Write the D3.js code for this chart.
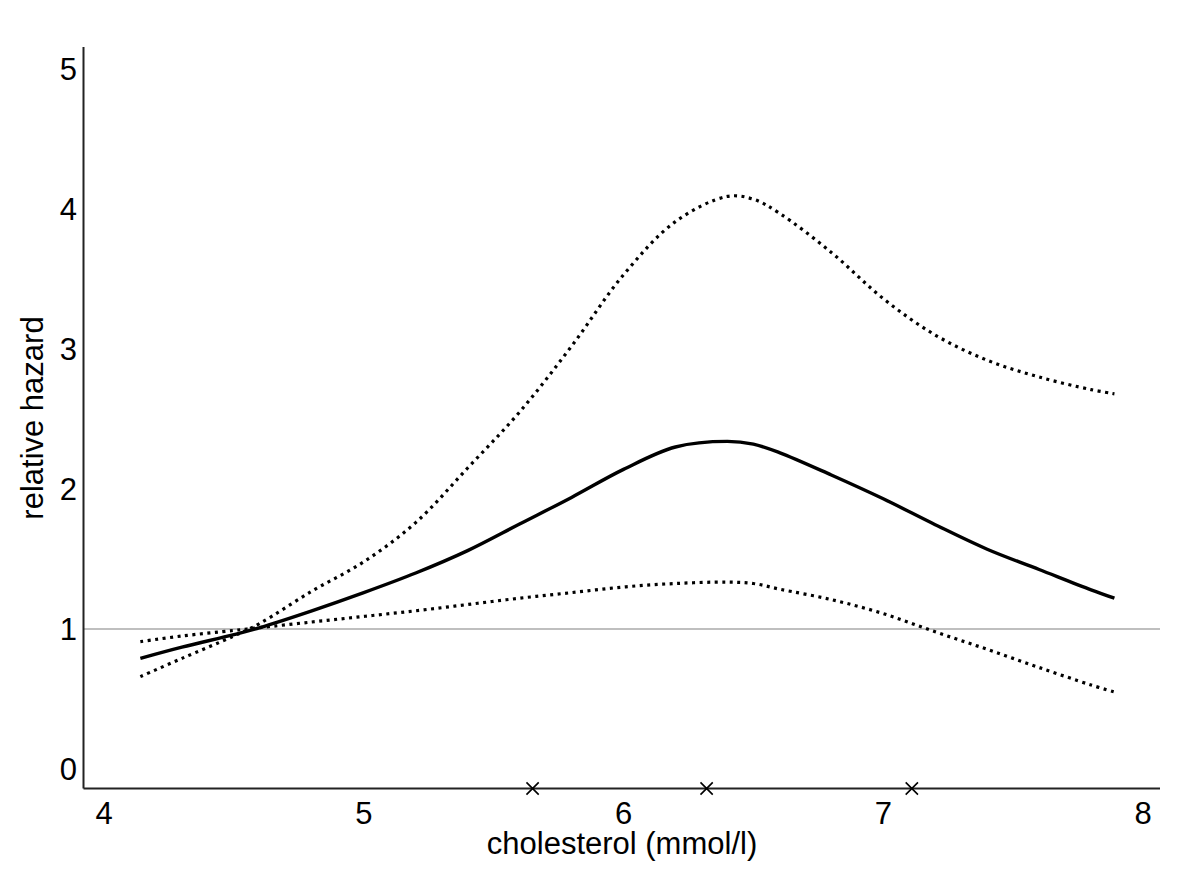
<!DOCTYPE html>
<html>
<head>
<meta charset="utf-8">
<script src="https://cdn.jsdelivr.net/npm/d3@7"></script>
<style>
  body { margin: 0; background: #fff; }
  text { font-family: "Liberation Sans", Arial, sans-serif; fill: #000; }
</style>
</head>
<body>
<svg id="chart" width="1200" height="884"></svg>
<script>
// cholesterol values (mmol/l) at which the curves were read
const xs = [4.14, 4.3, 4.5, 4.6, 4.8, 5.0, 5.2, 5.4, 5.6, 5.8, 6.0, 6.2, 6.4, 6.5, 6.6, 6.8, 7.0, 7.2, 7.4, 7.6, 7.8, 7.89]
// relative hazard estimate
const hazard = [0.79, 0.87, 0.96, 1.01, 1.13, 1.26, 1.40, 1.56, 1.75, 1.94, 2.14, 2.30, 2.34, 2.32, 2.26, 2.10, 1.93, 1.745, 1.57, 1.425, 1.28, 1.22]
// confidence band, the one that rises steeply
const bandHigh = [0.66, 0.79, 0.95, 1.04, 1.27, 1.48, 1.76, 2.15, 2.55, 3.02, 3.53, 3.91, 4.09, 4.07, 3.97, 3.69, 3.36, 3.10, 2.92, 2.80, 2.71, 2.68]
// confidence band, the flatter one
const bandLow = [0.91, 0.95, 0.99, 1.01, 1.05, 1.09, 1.13, 1.175, 1.22, 1.26, 1.30, 1.325, 1.335, 1.325, 1.285, 1.21, 1.11, 0.98, 0.855, 0.725, 0.60, 0.55]
// knot positions shown as crosses on the x axis
const knots = [5.65, 6.32, 7.11]
const xTicks = [4, 5, 6, 7, 8]
const yTicks = [0, 1, 2, 3, 4, 5]

const svg = d3.select('#chart')

const x = d3.scaleLinear().domain([4, 8]).range([104, 1143])
const y = d3.scaleLinear().domain([0, 5]).range([769, 69])

const plotLeft = 83.5, plotRight = 1160, plotTop = 47, plotBottom = 788.5
const fontSize = '31px'

// reference line at hazard 1
svg.append('line')
  .attr('x1', plotLeft).attr('x2', plotRight)
  .attr('y1', y(1)).attr('y2', y(1))
  .style('stroke', '#aaa')
  .style('stroke-width', 1.5)

// axes (no tick marks)
svg.append('line')
  .attr('x1', plotLeft).attr('x2', plotLeft)
  .attr('y1', plotTop).attr('y2', plotBottom)
  .style('stroke', '#222').style('stroke-width', 2)
svg.append('line')
  .attr('x1', plotLeft).attr('x2', plotRight)
  .attr('y1', plotBottom).attr('y2', plotBottom)
  .style('stroke', '#222').style('stroke-width', 2)

svg.selectAll('.ytick')
  .data(yTicks)
  .enter()
  .append('text')
  .attr('class', 'ytick')
  .attr('x', 77)
  .attr('y', d => y(d))
  .attr('dy', '0.36em')
  .attr('text-anchor', 'end')
  .style('font-size', fontSize)
  .text(d => d)

svg.selectAll('.xtick')
  .data(xTicks)
  .enter()
  .append('text')
  .attr('class', 'xtick')
  .attr('x', d => x(d))
  .attr('y', 824)
  .attr('text-anchor', 'middle')
  .style('font-size', fontSize)
  .text(d => d)

svg.append('text')
  .attr('x', 622)
  .attr('y', 854)
  .attr('text-anchor', 'middle')
  .style('font-size', fontSize)
  .text('cholesterol (mmol/l)')

svg.append('text')
  .attr('transform', 'translate(43, 418) rotate(-90)')
  .attr('text-anchor', 'middle')
  .style('font-size', fontSize)
  .text('relative hazard')

// curves
const line = d3.line()
  .x(d => x(d[0]))
  .y(d => y(d[1]))
  .curve(d3.curveCatmullRom.alpha(0.5))

const series = [
  { values: bandHigh, dash: '3,4.5', width: 3.2 },
  { values: bandLow, dash: '3,4.5', width: 3.2 },
  { values: hazard, dash: null, width: 3.4 }
]

svg.selectAll('.curve')
  .data(series)
  .enter()
  .append('path')
  .attr('class', 'curve')
  .attr('d', s => line(xs.map((v, i) => [v, s.values[i]])))
  .style('fill', 'none')
  .style('stroke', '#000')
  .style('stroke-width', s => s.width)
  .style('stroke-dasharray', s => s.dash)

// knot markers
const cross = d3.symbol().type(d3.symbolX).size(100)
svg.selectAll('.knot')
  .data(knots)
  .enter()
  .append('path')
  .attr('class', 'knot')
  .attr('transform', d => `translate(${x(d)}, ${plotBottom})`)
  .attr('d', cross)
  .style('fill', 'none')
  .style('stroke', '#000')
  .style('stroke-width', 1.6)
</script>
</body>
</html>
